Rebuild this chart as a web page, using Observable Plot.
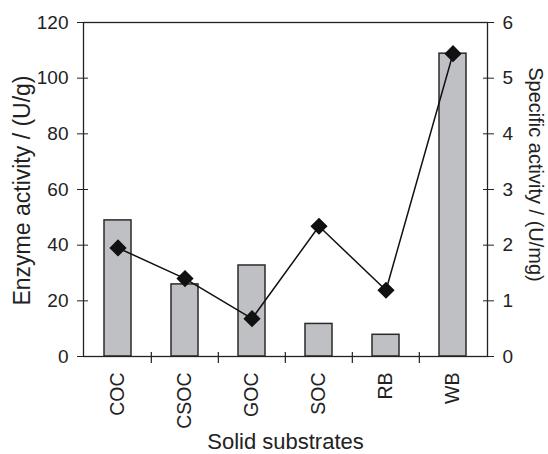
<!DOCTYPE html>
<html>
<head>
<meta charset="utf-8">
<script src="https://cdn.jsdelivr.net/npm/d3@7"></script>
<script src="https://cdn.jsdelivr.net/npm/@observablehq/plot@0.6"></script>
<style>
  html, body { margin: 0; padding: 0; background: #fff; }
</style>
</head>
<body>
<div id="chart"></div>
<script>
const categories = ["COC", "CSOC", "GOC", "SOC", "RB", "WB"];
const enzymeActivity = [48.9, 25.9, 32.7, 11.7, 7.8, 108.8];   // U/g (left axis)
const specificActivity = [1.95, 1.40, 0.68, 2.34, 1.19, 5.44]; // U/mg (right axis)
const leftTicks = [0, 20, 40, 60, 80, 100, 120];
const rightTicks = [0, 1, 2, 3, 4, 5, 6];
const rightFactor = 20; // 6 U/mg on right axis == 120 U/g on left axis

const data = categories.map((c, i) => ({
  cat: c,
  enzyme: enzymeActivity[i],
  specific: specificActivity[i]
}));

const W = 548, H = 454, mL = 83, mR = 61, mT = 22, mB = 98;
const step = (W - mL - mR) / categories.length;
const ink = "#222";

const chart = Plot.plot({
  width: W,
  height: H,
  marginLeft: mL,
  marginRight: mR,
  marginTop: mT,
  marginBottom: mB,
  style: { fontFamily: "'Liberation Sans', Arial, sans-serif", fontSize: "19px", color: ink, background: "#fff" },
  x: { domain: categories, paddingInner: 0.59, paddingOuter: 0.295, axis: null, label: null },
  y: { domain: [0, 120], axis: null, label: null },
  marks: [
    Plot.barY(data, { x: "cat", y: "enzyme", fill: "#bfc0c4", stroke: "#2a2a2a", strokeWidth: 1.5 }),
    Plot.frame({ stroke: ink, strokeWidth: 1.3 }),
    // left axis
    Plot.axisY(leftTicks, { anchor: "left", tickSize: 0, tickPadding: 15, fontSize: 19, fill: ink, label: null }),
    Plot.axisY(leftTicks, { anchor: "left", tickSize: 11, dx: 5, tickFormat: () => "", stroke: ink, label: null }),
    // right axis
    Plot.axisY(rightTicks.map(v => v * rightFactor), { anchor: "right", tickSize: 0, tickPadding: 15, fontSize: 19, fill: ink, tickFormat: d => d / rightFactor, label: null }),
    Plot.axisY(rightTicks.map(v => v * rightFactor), { anchor: "right", tickSize: 11, dx: -5, tickFormat: () => "", stroke: ink, label: null }),
    // x axis labels
    Plot.axisX({ anchor: "bottom", tickSize: 0, tickPadding: 16, tickRotate: -90, fontSize: 19.5, fill: ink, label: null }),
    // x boundary ticks
    Plot.ruleX(categories.slice(1), { x: d => d, y1: -2.5, y2: 1.45, dx: -step / 2, stroke: ink, strokeWidth: 1.2 }),
    // line + markers
    Plot.line(data, { x: "cat", y: d => d.specific * rightFactor, stroke: "#111", strokeWidth: 1.5 }),
    Plot.dot(data, { x: "cat", y: d => d.specific * rightFactor, symbol: "diamond2", r: 6.8, fill: "#111", stroke: "#111" }),
    // titles
    Plot.text(["Enzyme activity / (U/g)"], { text: d => d, frameAnchor: "left", dx: -61, dy: 1, rotate: -90, textAnchor: "middle", lineAnchor: "middle", fontSize: 23, fill: ink }),
    Plot.text(["Specific activity / (U/mg)"], { text: d => d, frameAnchor: "right", dx: 48, dy: -15, rotate: 90, textAnchor: "middle", lineAnchor: "middle", fontSize: 20, fill: ink }),
    Plot.text(["Solid substrates"], { text: d => d, frameAnchor: "bottom", dy: 85, textAnchor: "middle", lineAnchor: "middle", fontSize: 22, fill: ink })
  ]
});

document.getElementById("chart").appendChild(chart);
</script>
</body>
</html>
